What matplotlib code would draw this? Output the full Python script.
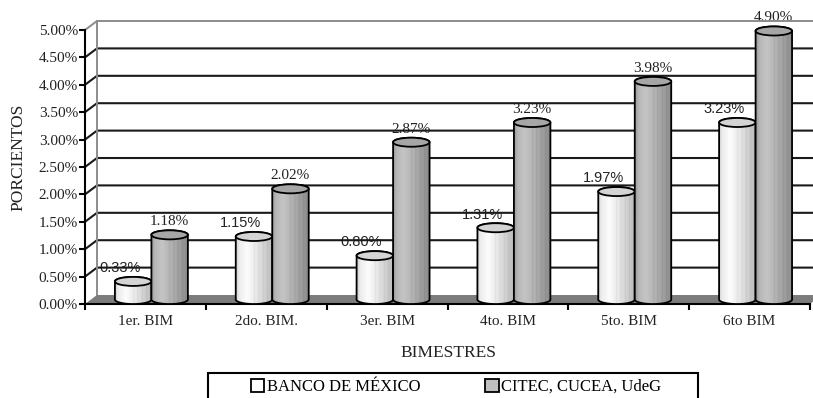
import numpy as np
import matplotlib.pyplot as plt
from matplotlib.patches import Ellipse, PathPatch, Polygon, Rectangle
from matplotlib.path import Path

# Data
bimestres = ['1er. BIM', '2do. BIM.', '3er. BIM', '4to. BIM', '5to. BIM', '6to BIM']
banxico = [0.33, 1.15, 0.80, 1.31, 1.97, 3.23]
citec = [1.18, 2.02, 2.87, 3.23, 3.98, 4.90]
series_names = ['BANCO DE MÉXICO', 'CITEC, CUCEA, UdeG']

plt.rcParams['font.family'] = 'Liberation Serif'

fig = plt.figure(figsize=(8.13, 3.98), dpi=100)
ax = fig.add_axes([85/813, 94/398, 725/813, 274/398])

n = len(bimestres)
ymax = 5.0
dx, dy = 0.099, 0.164   # depth of the pseudo-3D box (data units)
cw = 0.302              # cylinder width
eh = 0.165              # height of the elliptical caps


def shade(kind, m=160):
    t = np.linspace(0, 1, m)
    if kind == 'light':
        g = np.interp(t, [0, 0.08, 0.3, 0.6, 0.9, 1.0], [0.80, 0.92, 0.99, 0.89, 0.77, 0.72])
    else:
        g = np.interp(t, [0, 0.1, 0.3, 0.6, 0.9, 1.0], [0.60, 0.72, 0.77, 0.68, 0.58, 0.52])
    # faint vertical streaks
    for s in (0.5, 0.62, 0.74, 0.86):
        g[np.abs(t - s) < 0.012] -= 0.05
    return g[None, :]


def cylinder(xc, top, kind, z):
    a, b = cw / 2, eh / 2
    base = dy / 2
    th = np.linspace(np.pi, 2 * np.pi, 50)
    th2 = np.linspace(0, np.pi, 50)
    verts = np.vstack([np.column_stack([xc + a * np.cos(th), base + b * np.sin(th)]),
                       np.column_stack([xc + a * np.cos(th2), top + b * np.sin(th2)])])
    outline = PathPatch(Path(verts, closed=True), facecolor='none', edgecolor='black',
                        lw=1.3, zorder=z + 0.05, clip_on=False)
    ax.add_patch(outline)
    im = ax.imshow(shade(kind), cmap='gray', vmin=0, vmax=1, aspect='auto',
                   extent=[xc - a, xc + a, base - b, top + b], zorder=z,
                   interpolation='bilinear')
    im.set_clip_path(outline)
    cap = '#d4d4d4' if kind == 'light' else '#a6a6a6'
    ax.add_patch(Ellipse((xc, top), cw, eh, facecolor=cap, edgecolor='black',
                         lw=1.3, zorder=z + 0.1, clip_on=False))


# walls and gridlines
for v in np.arange(0.5, ymax, 0.5):
    ax.plot([0, dx, n + dx], [v, v + dy, v + dy], color='#1a1a1a', lw=1.5,
            zorder=2, clip_on=False, solid_capstyle='butt')
ax.plot([0, dx, n + dx], [ymax, ymax + dy, ymax + dy], color='#8c8c8c', lw=1.4,
        zorder=2, clip_on=False)
ax.plot([dx, dx], [dy, ymax + dy], color='#8c8c8c', lw=1.4, zorder=2, clip_on=False)
ax.add_patch(Polygon([(0, 0), (n, 0), (n + dx, dy), (dx, dy)], closed=True,
                     facecolor='#7c7c7c', edgecolor='none', zorder=2.2, clip_on=False))

# cylinders and value labels
for i in range(n):
    xc = i + 0.5 + dx / 2
    base = dy / 2
    cylinder(xc - cw / 2, banxico[i] + base, 'light', 3 + i)
    cylinder(xc + cw / 2, citec[i] + base, 'dark', 3.5 + i)
    ax.annotate(f'{banxico[i]:.2f}%', (xc - cw / 2, banxico[i] + base), xytext=(-9.5, 9.5),
                textcoords='offset points', ha='center', va='center', fontsize=10.5,
                family='Liberation Sans', color='#222222', zorder=1)
    ax.annotate(f'{citec[i]:.2f}%', (xc + cw / 2, citec[i] + base), xytext=(0, 9.5),
                textcoords='offset points', ha='center', va='center', fontsize=11,
                color='#222222', zorder=1)

ax.set_xlim(0, n)
ax.set_ylim(0, ymax)

for side in ('top', 'right'):
    ax.spines[side].set_visible(False)
for side in ('left', 'bottom'):
    ax.spines[side].set_linewidth(1.5)

yt = np.arange(0, ymax + 0.01, 0.5)
ax.set_yticks(yt)
ax.set_yticklabels([f'{v:.2f}%' for v in yt])
ax.set_xticks(range(n + 1))
ax.set_xticklabels([])
ax.set_xticks(np.arange(n) + 0.5, minor=True)
ax.set_xticklabels(bimestres, minor=True)
ax.tick_params(axis='y', direction='out', length=4, width=1.5, pad=1, labelsize=11,
               labelcolor='#222222')
ax.tick_params(axis='x', which='major', direction='out', length=4, width=1.5)
ax.tick_params(axis='x', which='minor', length=0, pad=8, labelsize=11, labelcolor='#222222')

fig.text(448/813, 1 - 353/398, 'BIMESTRES', ha='center', va='center', fontsize=12.5,
         color='#222222')
fig.text(18/813, 1 - 157/398, 'PORCIENTOS', ha='center', va='center', rotation=90,
         fontsize=12.5, color='#222222')

# legend
handles = [Rectangle((0, 0), 1, 1, facecolor=c, edgecolor='black', lw=1.3)
           for c in ('white', '#bfbfbf')]
fig.legend(handles, series_names, loc='center', bbox_to_anchor=(456/813, 1 - 387/398),
           ncol=2, frameon=False, fontsize=12, handlelength=0.8, handleheight=0.8,
           handletextpad=0.15, columnspacing=3.9, borderpad=0)
fig.patches.append(Rectangle((208/813, -3/398), 490/813, 28/398, transform=fig.transFigure,
                             facecolor='none', edgecolor='black', lw=1.5))

fig.savefig('out.png', dpi=100)
